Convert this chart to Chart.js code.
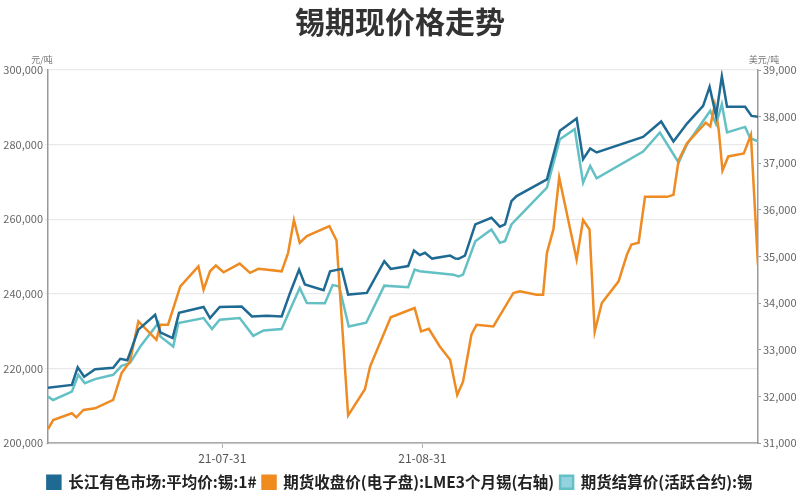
<!DOCTYPE html>
<html>
<head>
<meta charset="utf-8">
<script src="https://cdn.jsdelivr.net/npm/chart.js@4.4.1/dist/chart.umd.min.js"></script>
<style>
  html, body { margin: 0; padding: 0; background: #ffffff; }
  #wrap { width: 800px; height: 500px; }
</style>
</head>
<body>
<div id="wrap"><canvas id="main-chart"></canvas></div>
<script>
// x positions are day offsets from 21-07-04
const tick_days = [27, 58];
const tick_labels = ["21-07-31", "21-08-31"];

const series_names = [
    "长江有色市场:平均价:锡:1#",
    "期货收盘价(电子盘):LME3个月锡(右轴)",
    "期货结算价(活跃合约):锡"
];

// 长江有色 (元/吨)
const spot_days = [0, 3.7, 4.6, 5.6, 7.3, 10.1, 11.2, 12.3, 14.0, 16.6, 17.4, 19.3, 20.3, 24.1, 25.1, 26.6,
    30.0, 31.6, 33.9, 36.2, 37.5, 38.9, 39.8, 42.7, 43.7, 45.5, 46.5, 49.4, 52.1, 53.1, 55.8, 56.7, 57.6,
    58.4, 59.5, 62.3, 63.1, 63.6, 64.6, 66.2, 68.7, 70.0, 70.8, 71.8, 72.6, 77.3, 79.3, 81.9, 82.9, 84.0,
    85.0, 92.2, 95.0, 96.9, 99.0, 101.5, 102.5, 103.5, 104.4, 105.2, 108.0, 109.0, 110];
const spot_values = [214800, 215600, 220300, 217800, 219800, 220200, 222600, 222200, 230400, 234400, 229700,
    228150, 234900, 236500, 233500, 236500, 236600, 233950, 234100, 233950, 240250, 246500, 242500, 240950,
    246050, 246700, 239800, 240250, 248750, 246700, 247450, 251600, 250400, 251000, 249450, 250250, 249450,
    249400, 250250, 258600, 260400, 258000, 258600, 264850, 266200, 270700, 283700, 287000, 276100, 278950,
    277900, 282050, 286200, 280850, 285650, 290400, 295500, 287700, 298300, 290150, 290150, 287700, 287450];

// LME 3个月锡 (美元/吨, 右轴)
const lme_days = [0, 0.8, 3.7, 4.4, 5.5, 7.3, 10.1, 11.4, 12.7, 14.0, 16.8, 17.4, 18.6, 20.5, 23.3, 24.1,
    25.1, 26.0, 27.2, 29.7, 31.3, 32.6, 36.2, 37.2, 38.1, 39.0, 40.1, 43.6, 44.7, 46.5, 49.1, 49.9, 53.1,
    56.8, 57.8, 59.0, 60.7, 62.3, 63.4, 64.3, 65.6, 66.4, 69.0, 72.1, 73.1, 75.7, 76.7, 77.3, 78.3, 79.2,
    81.9, 82.9, 83.9, 84.7, 85.8, 88.4, 89.7, 90.4, 91.5, 92.5, 95.9, 96.9, 97.7, 99.0, 101.9, 102.6, 103.3,
    103.9, 104.5, 105.4, 107.8, 108.9, 110];
const lme_values = [31300, 31495, 31640, 31553, 31710, 31746, 31925, 32500, 32750, 33610, 33215, 33540, 33540,
    34360, 34790, 34290, 34684, 34807, 34662, 34850, 34650, 34736, 34684, 35080, 35781, 35295, 35437, 35652,
    35344, 31592, 32155, 32641, 33699, 33897, 33394, 33452, 33071, 32785, 32032, 32318, 33323, 33538, 33501,
    34219, 34254, 34183, 34183, 35080, 35581, 36693, 34936, 35781, 35581, 33387, 34004, 34469, 35043, 35258,
    35295, 36280, 36280, 36323, 37065, 37430, 37871, 37791, 38252, 37731, 36843, 37146, 37211, 37606, 34807];

// 期货结算价 活跃合约 (元/吨)
const settle_days = [0, 0.8, 3.7, 4.7, 5.7, 7.3, 10.1, 11.4, 12.7, 14.3, 17.1, 17.4, 19.4, 20.2, 24.1, 25.4,
    26.6, 29.7, 31.8, 33.4, 36.2, 37.5, 39.0, 40.1, 42.9, 44.1, 45.1, 46.6, 49.3, 52.1, 55.8, 56.8, 57.6,
    62.8, 63.6, 64.3, 66.2, 68.7, 70.0, 70.8, 71.8, 77.3, 79.3, 81.6, 82.9, 84.0, 85.0, 92.2, 94.8, 97.7,
    99.0, 102.6, 103.5, 104.4, 105.2, 108.0, 108.8, 110];
const settle_values = [212450, 211550, 213800, 218300, 216050, 217150, 218300, 220700, 221450, 225900, 232200,
    228600, 225900, 232200, 233500, 230550, 233050, 233500, 228750, 230200, 230550, 235750, 241600, 237550,
    237500, 242350, 242000, 231250, 232250, 242200, 241800, 246500, 246050, 245150, 244700, 245150, 254100,
    257250, 253700, 254100, 258600, 268450, 281450, 284150, 269800, 274300, 270950, 278150, 283250, 275200,
    280100, 289050, 285500, 290850, 283250, 284750, 281700, 280850];

function toPoints(days, values)
{
    return days.map((d, i) => ({x: d, y: values[i]}));
}

const font_family = "'Noto Sans CJK SC', 'Noto Sans', sans-serif";

// unit labels above both y axes
const unitPlugin = {
    id: "units",
    afterDraw(chart) {
        const ctx = chart.ctx;
        ctx.save();
        ctx.font = "9px " + font_family;
        ctx.fillStyle = "#777";
        ctx.textBaseline = "bottom";
        ctx.textAlign = "center";
        ctx.fillText("元/吨", chart.scales.y.right - 6, chart.chartArea.top - 6);
        ctx.fillText("美元/吨", chart.scales.y1.left + 6, chart.chartArea.top - 6);
        ctx.restore();
    }
};

const config = {
    type: "line",
    data: {
        datasets: [
            {
                label: series_names[0],
                data: toPoints(spot_days, spot_values),
                borderColor: "#1f6a93",
                backgroundColor: "#1f6a93",
                yAxisID: "y"
            },
            {
                label: series_names[1],
                data: toPoints(lme_days, lme_values),
                borderColor: "#ee8b22",
                backgroundColor: "#f08c1e",
                yAxisID: "y1"
            },
            {
                label: series_names[2],
                data: toPoints(settle_days, settle_values),
                borderColor: "#63c0c4",
                backgroundColor: "#92d3df",
                yAxisID: "y"
            }
        ]
    },
    options: {
        responsive: true,
        maintainAspectRatio: false,
        animation: false,
        layout: { padding: { left: 0, right: 0, top: 4, bottom: 0 } },
        elements: {
            point: { radius: 0 },
            line: { borderWidth: 2.5, tension: 0 }
        },
        plugins: {
            title: {
                display: true,
                text: "锡期现价格走势",
                color: "#333",
                font: { family: font_family, size: 30, weight: "bold" },
                padding: { top: 0, bottom: 30 }
            },
            legend: {
                position: "bottom",
                labels: {
                    color: "#222",
                    boxWidth: 13,
                    boxHeight: 13,
                    padding: 6,
                    font: { family: font_family, size: 15.5, weight: "bold" }
                }
            },
            tooltip: { enabled: false }
        },
        scales: {
            x: {
                type: "linear",
                min: 0,
                max: 110,
                afterBuildTicks: (scale) => {
                    scale.ticks = tick_days.map(v => ({value: v}));
                },
                ticks: {
                    color: "#555",
                    font: { family: font_family, size: 12 },
                    padding: 3,
                    autoSkip: false,
                    maxRotation: 0,
                    callback: (v) => tick_labels[tick_days.indexOf(v)]
                },
                grid: { drawOnChartArea: false, tickLength: 5, color: "#aaa" },
                border: { color: "#aaa", width: 1.5 }
            },
            y: {
                position: "left",
                min: 200000,
                max: 300000,
                afterFit: (scale) => { scale.width = 48; },
                ticks: {
                    stepSize: 20000,
                    color: "#666",
                    font: { family: font_family, size: 11 },
                    padding: 2,
                    callback: (v) => v.toLocaleString("en-US")
                },
                grid: { color: "#e9e9e9", tickLength: 3, lineWidth: 1.2 },
                border: { color: "#999", width: 1.5 }
            },
            y1: {
                position: "right",
                min: 31000,
                max: 39000,
                afterFit: (scale) => { scale.width = 42; },
                ticks: {
                    stepSize: 1000,
                    color: "#666",
                    font: { family: font_family, size: 11 },
                    padding: 2,
                    callback: (v) => v.toLocaleString("en-US")
                },
                grid: { drawOnChartArea: false, tickLength: 3, color: "#999" },
                border: { color: "#999", width: 1.5 }
            }
        }
    },
    plugins: [unitPlugin]
};

let main_chart = new Chart(document.getElementById("main-chart").getContext("2d"), config);
</script>
</body>
</html>
